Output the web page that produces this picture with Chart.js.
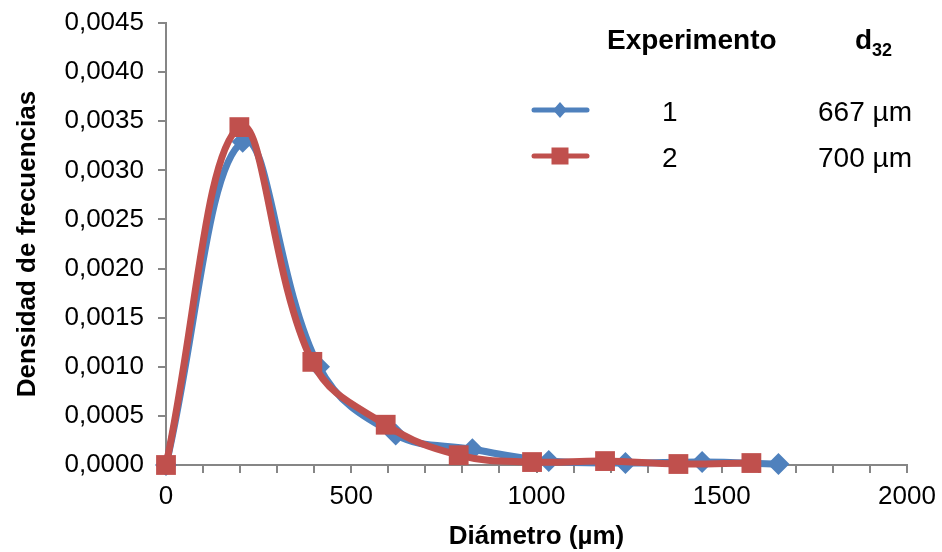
<!DOCTYPE html>
<html>
<head>
<meta charset="utf-8">
<script src="https://cdn.jsdelivr.net/npm/chart.js@4.4.1/dist/chart.umd.min.js"></script>
<style>
  html, body { margin: 0; padding: 0; background: #ffffff; }
  #wrap { position: relative; width: 942px; height: 552px; overflow: hidden; }
  canvas { position: absolute; left: 0; top: 0; }
  .lg { position: absolute; font-family: "Liberation Sans", Arial, sans-serif; color: #000; white-space: nowrap; line-height: 1; }
  .b { font-weight: bold; }
</style>
</head>
<body>
<div id="wrap">
  <canvas id="c" width="942" height="552"></canvas>
  <div class="lg b" style="left:607px; top:26px; font-size:28px;">Experimento</div>
  <div class="lg b" style="left:855px; top:26px; font-size:28px;">d<sub style="font-size:18px; vertical-align:-7px;">32</sub></div>
  <div class="lg" style="left:662px; top:98px; font-size:28px;">1</div>
  <div class="lg" style="left:662px; top:144px; font-size:28px;">2</div>
  <div class="lg" style="right:30px; top:98px; font-size:28px;">667 µm</div>
  <div class="lg" style="right:30px; top:144px; font-size:28px;">700 µm</div>
</div>
<script>
// ---- data ----
const exp1Diam = [0, 207, 413, 620, 827, 1033, 1240, 1447, 1653];
const exp1Dens = [0, 0.00329, 0.00100, 0.00031, 0.00016, 0.00004, 0.00002, 0.00003, 0.00001];
const exp2Diam = [0, 198, 395, 593, 790, 988, 1185, 1383, 1580];
const exp2Dens = [0, 0.00344, 0.00105, 0.00041, 0.00010, 0.00003, 0.00004, 0.00001, 0.00002];
const seriesNames = ["1", "2"];
const xTickLabels = [0, 500, 1000, 1500, 2000];
const xAxisTitle = "Diámetro (µm)";
const yAxisTitle = "Densidad de frecuencias";

const BLUE = "#4F81BD";
const RED = "#C0504D";
const AXIS = "#868686";

Chart.defaults.font.family = '"Liberation Sans", Arial, sans-serif';
Chart.defaults.color = "#000";

const toPts = (xs, ys) => xs.map((x, i) => ({ x: x, y: ys[i] }));

const legendMarkers = {
  id: "legendMarkers",
  afterDraw(chart) {
    const ctx = chart.ctx;
    ctx.save();
    const rows = [
      { y: 110, color: BLUE, shape: "diamond" },
      { y: 156, color: RED, shape: "square" }
    ];
    rows.forEach(r => {
      ctx.strokeStyle = r.color;
      ctx.lineWidth = 5;
      ctx.lineCap = "round";
      ctx.beginPath();
      ctx.moveTo(534, r.y);
      ctx.lineTo(587, r.y);
      ctx.stroke();
      ctx.fillStyle = r.color;
      const cx = 560;
      if (r.shape === "diamond") {
        ctx.beginPath();
        ctx.moveTo(cx, r.y - 8);
        ctx.lineTo(cx + 7, r.y);
        ctx.lineTo(cx, r.y + 8);
        ctx.lineTo(cx - 7, r.y);
        ctx.closePath();
        ctx.fill();
      } else {
        ctx.fillRect(cx - 8.5, r.y - 8.5, 17, 17);
      }
    });
    ctx.restore();
  }
};

new Chart(document.getElementById("c"), {
  type: "line",
  data: {
    datasets: [
      {
        label: seriesNames[0],
        data: toPts(exp1Diam, exp1Dens),
        borderColor: BLUE,
        backgroundColor: BLUE,
        borderWidth: 7,
        pointStyle: "rectRot",
        pointRadius: 11,
        pointHoverRadius: 11,
        pointBorderWidth: 0,
        tension: 0.4,
        fill: false,
        clip: false,
        order: 1
      },
      {
        label: seriesNames[1],
        data: toPts(exp2Diam, exp2Dens),
        borderColor: RED,
        backgroundColor: RED,
        borderWidth: 7,
        pointStyle: "rect",
        pointRadius: 14,
        pointHoverRadius: 14,
        pointBorderWidth: 0,
        tension: 0.4,
        fill: false,
        clip: false,
        order: 0
      }
    ]
  },
  options: {
    responsive: false,
    animation: false,
    layout: { padding: { top: 23, right: 35, left: 0, bottom: 0 } },
    plugins: {
      legend: { display: false },
      tooltip: { enabled: false }
    },
    scales: {
      x: {
        type: "linear",
        min: 0,
        max: 2000,
        afterFit(s) { s.height = 87; s.paddingLeft = 0; s.paddingRight = 0; },
        border: { display: true, color: AXIS, width: 2 },
        grid: { drawOnChartArea: false, drawTicks: true, tickLength: 8, color: AXIS, lineWidth: 2 },
        ticks: {
          stepSize: 100,
          autoSkip: false,
          maxRotation: 0,
          padding: 8,
          font: { size: 26 },
          color: "#000",
          callback: v => (xTickLabels.includes(v) ? String(v) : "")
        },
        title: {
          display: true,
          text: xAxisTitle,
          font: { size: 26, weight: "bold" },
          color: "#000",
          padding: { top: 0, bottom: 0 }
        }
      },
      y: {
        type: "linear",
        min: 0,
        max: 0.0045,
        afterFit(s) { s.width = 166; s.paddingTop = 0; s.paddingBottom = 0; },
        border: { display: true, color: AXIS, width: 2 },
        grid: { drawOnChartArea: false, drawTicks: true, tickLength: 8, color: AXIS, lineWidth: 2 },
        ticks: {
          stepSize: 0.0005,
          autoSkip: false,
          padding: 14,
          font: { size: 26 },
          color: "#000",
          callback: v => Number(v).toFixed(4).replace(".", ",")
        },
        title: {
          display: true,
          text: yAxisTitle,
          font: { size: 26, weight: "bold" },
          color: "#000",
          padding: { top: 12, bottom: 0 }
        }
      }
    }
  },
  plugins: [legendMarkers]
});
</script>
</body>
</html>
